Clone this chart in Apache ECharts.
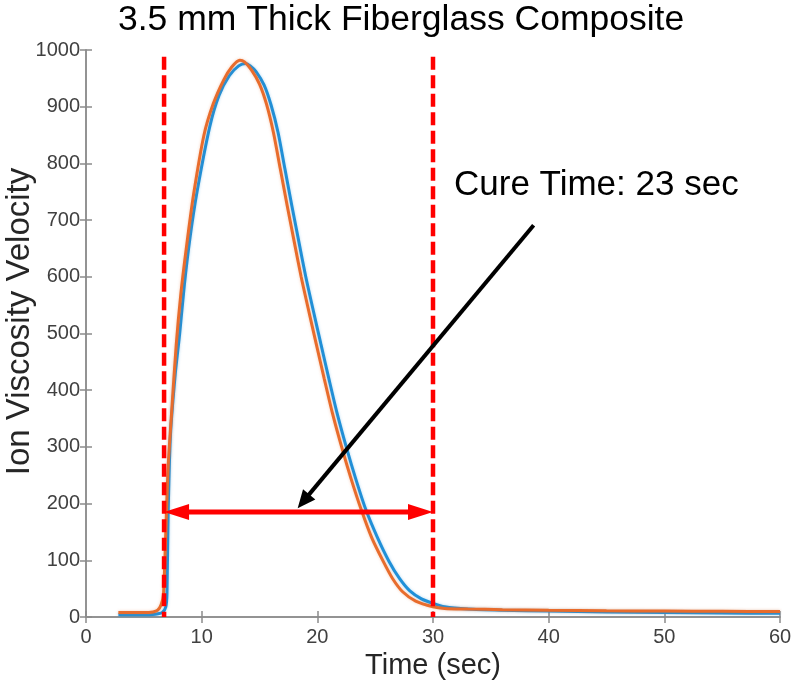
<!DOCTYPE html>
<html>
<head>
<meta charset="utf-8">
<script src="https://cdn.jsdelivr.net/npm/echarts@6/dist/echarts.min.js"></script>
<style>
  html, body { margin: 0; padding: 0; background: #fff; }
  #chart { width: 795px; height: 682px; }
</style>
</head>
<body>
<div id="chart"></div>
<script>
// run 1 (blue) and run 2 (orange), [time, ion viscosity velocity]
const blueRun = [
  [2.8, 4], [4, 4], [5, 4], [6, 5], [6.6, 8], [6.9, 18], [7.0, 40], [7.1, 180],
  [7.3, 320], [7.7, 425], [8.1, 500], [8.5, 585], [9.0, 670], [9.6, 750],
  [10.7, 865], [11.5, 920], [12.4, 955], [13.2, 972], [13.8, 976], [14.2, 972],
  [14.7, 962], [15.4, 938], [16.0, 903], [16.6, 855], [17.2, 790], [17.8, 725],
  [18.4, 662], [19.0, 600], [19.6, 545], [20.3, 482], [21.0, 420], [21.7, 360],
  [22.5, 300], [23.3, 245], [24.2, 189], [25.2, 140], [26.2, 98], [27.1, 68],
  [28.0, 46], [29.0, 32], [30.0, 24], [31.0, 18], [33, 14], [36, 12],
  [40, 10.5], [45, 9], [50, 8], [55, 7], [60, 6.5]
]
const orangeRun = [
  [2.8, 8], [4, 8], [5, 8], [5.8, 9], [6.2, 12], [6.5, 22], [6.7, 40], [6.9, 150],
  [7.1, 265], [7.4, 360], [7.8, 480], [8.2, 570], [8.7, 655], [9.3, 745],
  [10.2, 850], [11.0, 905], [11.9, 947], [12.6, 970], [13.3, 982], [13.7, 979],
  [14.3, 965], [15.0, 940], [15.6, 905], [16.2, 855], [16.8, 790], [17.4, 725],
  [18.0, 662], [18.6, 600], [19.2, 545], [19.9, 482], [20.6, 420], [21.3, 360],
  [22.1, 300], [22.9, 245], [23.8, 189], [24.7, 140], [25.7, 98], [26.5, 68],
  [27.4, 44], [28.5, 28], [30.0, 18], [31.0, 15], [33, 14], [36, 13],
  [40, 12], [45, 11], [50, 10.5], [55, 10], [60, 9.5]
]
// cure window annotation
const cureStart = 6.75
const cureEnd = 30.0
const cureTop = 988
const cureArrowY = 185
const pointerFrom = [38.7, 691]
const pointerTo = [18.3, 192]

const xTicks = { min: 0, max: 60, interval: 10 }
const yTicks = { min: 0, max: 1000, interval: 100 }

const font = 'Liberation Sans, Arial, sans-serif'
const axisGray = '#8c8c8c'

// kind: 0 = dashed red line, 1 = red double arrow, 2 = black arrow
const annotations = [
  [cureStart, cureTop, cureStart, 0, 0],
  [cureEnd, cureTop, cureEnd, 0, 0],
  [cureStart, cureArrowY, cureEnd, cureArrowY, 1],
  [pointerFrom[0], pointerFrom[1], pointerTo[0], pointerTo[1], 2]
]

function arrowHead (from, to, len, half, color) {
  let dx = to[0] - from[0]
  let dy = to[1] - from[1]
  let d = Math.sqrt(dx * dx + dy * dy)
  let ux = dx / d
  let uy = dy / d
  let bx = to[0] - ux * len
  let by = to[1] - uy * len
  return {
    type: 'polygon',
    shape: { points: [[to[0], to[1]], [bx - uy * half, by + ux * half], [bx + uy * half, by - ux * half]] },
    style: { fill: color }
  }
}

function shorten (from, to, len) {
  let dx = to[0] - from[0]
  let dy = to[1] - from[1]
  let d = Math.sqrt(dx * dx + dy * dy)
  return [to[0] - dx / d * len, to[1] - dy / d * len]
}

function renderAnnotation (params, api) {
  let p1 = api.coord([api.value(0), api.value(1)])
  let p2 = api.coord([api.value(2), api.value(3)])
  let kind = api.value(4)
  if (kind === 0) {
    return {
      type: 'line',
      shape: { x1: p1[0], y1: p1[1], x2: p2[0], y2: p2[1] },
      style: { stroke: '#ff0000', lineWidth: 4.5, lineDash: [13, 5.5] }
    }
  }
  if (kind === 1) {
    let a = shorten(p2, p1, 20)
    let b = shorten(p1, p2, 20)
    return {
      type: 'group',
      children: [
        { type: 'line', shape: { x1: a[0], y1: a[1], x2: b[0], y2: b[1] }, style: { stroke: '#ff0000', lineWidth: 5 } },
        arrowHead(p2, p1, 25, 8, '#ff0000'),
        arrowHead(p1, p2, 25, 8, '#ff0000')
      ]
    }
  }
  let e = shorten(p1, p2, 14)
  return {
    type: 'group',
    children: [
      { type: 'line', shape: { x1: p1[0], y1: p1[1], x2: e[0], y2: e[1] }, style: { stroke: '#000', lineWidth: 4 } },
      arrowHead(p1, p2, 18, 8, '#000')
    ]
  }
}

let chart = echarts.init(document.getElementById('chart'))
let option = {
  animation: false,
  backgroundColor: '#fff',
  title: [
    {
      text: '3.5 mm Thick Fiberglass Composite',
      left: 118,
      top: 2,
      padding: 0,
      textStyle: { fontFamily: font, fontSize: 35.5, fontWeight: 'normal', color: '#000' }
    },
    {
      text: 'Cure Time: 23 sec',
      left: 454,
      top: 168,
      padding: 0,
      textStyle: { fontFamily: font, fontSize: 35, fontWeight: 'normal', color: '#000' }
    }
  ],
  grid: { left: 86, top: 50, right: 15, bottom: 65, containLabel: false, outerBoundsMode: 'none' },
  xAxis: [
    {
      type: 'value',
      min: xTicks.min,
      max: xTicks.max,
      interval: xTicks.interval,
      name: 'Time (sec)',
      nameLocation: 'middle',
      nameGap: 28,
      nameTextStyle: { fontFamily: font, fontSize: 29, color: '#262626' },
      axisLine: { show: true, lineStyle: { color: axisGray, width: 1.5 } },
      axisTick: { show: true, inside: true, length: 6, lineStyle: { color: axisGray, width: 1.5 } },
      axisLabel: { fontFamily: font, fontSize: 20, color: '#404040', margin: 10, formatter: v => String(v) },
      splitLine: { show: false }
    },
    {
      type: 'value',
      position: 'top',
      min: xTicks.min,
      max: xTicks.max,
      interval: xTicks.interval,
      axisLine: { show: true, lineStyle: { color: axisGray, width: 1.5 } },
      axisTick: { show: true, inside: true, length: 6, lineStyle: { color: axisGray, width: 1.5 } },
      axisLabel: { show: false },
      splitLine: { show: false }
    }
  ],
  yAxis: [
    {
      type: 'value',
      min: yTicks.min,
      max: yTicks.max,
      interval: yTicks.interval,
      name: 'Ion Viscosity Velocity',
      nameLocation: 'middle',
      nameGap: 50,
      nameMoveOverlap: false,
      nameTextStyle: { fontFamily: font, fontSize: 33, color: '#262626', padding: [0, 0, 0, 24] },
      axisLine: { show: true, lineStyle: { color: axisGray, width: 1.5 } },
      axisTick: { show: true, inside: true, length: 6, lineStyle: { color: axisGray, width: 1.5 } },
      axisLabel: { fontFamily: font, fontSize: 20, color: '#404040', margin: 6, formatter: v => String(v) },
      splitLine: { show: false }
    },
    {
      type: 'value',
      position: 'right',
      min: yTicks.min,
      max: yTicks.max,
      interval: yTicks.interval,
      axisLine: { show: true, lineStyle: { color: axisGray, width: 1.5 } },
      axisTick: { show: true, inside: true, length: 6, lineStyle: { color: axisGray, width: 1.5 } },
      axisLabel: { show: false },
      splitLine: { show: false }
    }
  ],
  series: [
    {
      name: 'Run 1',
      type: 'line',
      data: blueRun,
      showSymbol: false,
      smooth: 0.25,
      lineStyle: { color: '#2090d8', width: 3, shadowColor: 'rgba(32,144,216,0.35)', shadowBlur: 3 },
      silent: true
    },
    {
      name: 'Run 2',
      type: 'line',
      data: orangeRun,
      showSymbol: false,
      smooth: 0.25,
      lineStyle: { color: '#e86c2c', width: 3, shadowColor: 'rgba(232,108,44,0.35)', shadowBlur: 3 },
      silent: true
    },
    {
      name: 'Cure window',
      type: 'custom',
      data: annotations,
      renderItem: renderAnnotation,
      silent: true,
      z: 5
    }
  ]
}
chart.setOption(option)
</script>
</body>
</html>
